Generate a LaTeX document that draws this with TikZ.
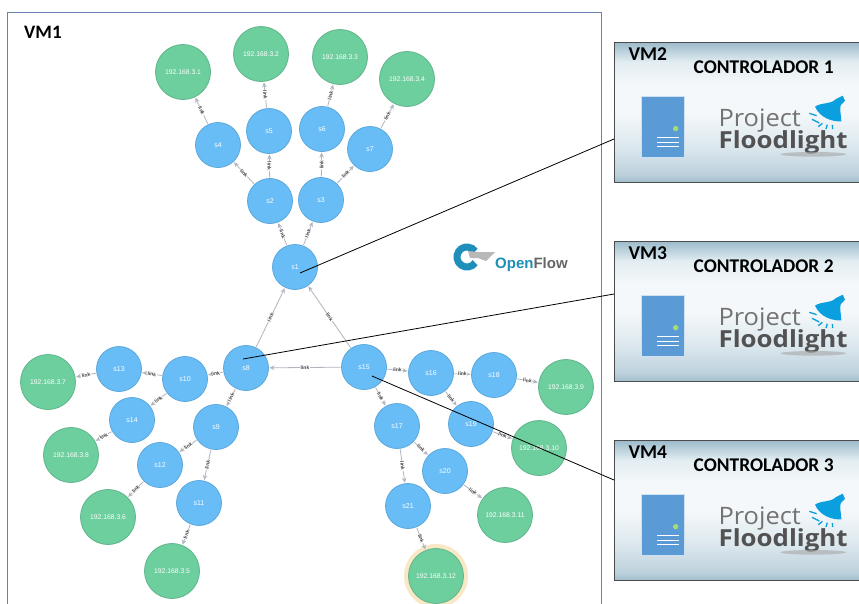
\documentclass[tikz,border=0pt]{standalone}
\usepackage{fontspec}
\setmainfont{Liberation Sans}
\newfontfamily\calfont{Carlito}
\newfontfamily\opfont{Open Sans}
\usetikzlibrary{arrows.meta}
\definecolor{swfill}{HTML}{68BDF6}
\definecolor{swline}{HTML}{5CA8DB}
\definecolor{hofill}{HTML}{6DCE9E}
\definecolor{holine}{HTML}{60B58B}
\definecolor{edgec}{HTML}{B0B5BF}
\definecolor{halo}{HTML}{F8E8C6}
\definecolor{frameb}{HTML}{6C82AE}
\definecolor{srv}{HTML}{5B9BD5}
\definecolor{lamp}{HTML}{0A9FDF}
\definecolor{ofteal}{HTML}{1E8FB8}
\definecolor{c1shade}{HTML}{9DBBCB}
\definecolor{c3shade}{HTML}{E2EDF2}
\definecolor{c4shade}{HTML}{F4F8FA}
\definecolor{c5shade}{HTML}{DCE8EE}
\definecolor{c5bshade}{HTML}{BDD1DC}
\definecolor{c6shade}{HTML}{A0BDCD}
\pgfdeclareverticalshading{vmshade}{100bp}{
 color(0bp)=(c6shade);
 color(25bp)=(c6shade);
 color(28bp)=(c5bshade);
 color(38bp)=(c5shade);
 color(50bp)=(c4shade);
 color(60bp)=(c4shade);
 color(68bp)=(c3shade);
 color(75bp)=(c1shade);
 color(100bp)=(c1shade)}
\tikzset{
 sw/.style={circle,fill=swfill,draw=swline,line width=.8pt,minimum size=45pt,inner sep=0pt,outer sep=1pt,text=white,font=\fontsize{7}{8}\selectfont},
 ho/.style={circle,fill=hofill,draw=holine,line width=.8pt,minimum size=55pt,inner sep=0pt,outer sep=1pt,text=white,font=\fontsize{6.8}{8}\selectfont},
 edge/.style={draw=edgec,line width=.8pt,-{Stealth[length=5pt,width=4.5pt]}},
 lbl/.style={sloped,midway,fill=white,inner sep=.5pt,text=black!75,font=\fontsize{5}{5.5}\bfseries\selectfont},
 vmbox/.style={draw=black!70,line width=1pt,shading=vmshade,minimum width=252pt,minimum height=140pt,anchor=north west,inner sep=0pt},
 vmtag/.style={anchor=base west,inner sep=0pt,font=\fontsize{19.5}{21}\calfont\bfseries\selectfont},
 ctl/.style={anchor=base,inner sep=0pt,font=\fontsize{19.4}{21}\calfont\bfseries\selectfont},
 conn/.style={draw=black,line width=.8pt},
 ray/.style={draw=lamp,line width=1.3pt}
}
\newcommand{\vmpanel}[3]{%
 \node[vmbox] (vm#1) at (614,#2) {};
 \begin{scope}[shift={(600,#2-12)},x=.33333pt,y=-.33333pt]
  \node[vmtag] (tag#1) at (85,92) {VM#1};
  \node[ctl] (ctl#1) at (491,131) {CONTROLADOR #3};
  \fill[srv,draw=white!70!srv,line width=.6pt] (123,198) rectangle (252,381);
  \fill[green!50!yellow!60!gray!70!white] (227,296) circle (8);
  \foreach \yy in {322,336,350} \draw[white,line width=.9pt] (172,\yy) -- (236,\yy);
  \node[anchor=base west,inner sep=0pt,xscale=1.06,text=black!55,font=\fontsize{24}{26}\opfont\selectfont] (prj#1) at (355,290) {Project};
  \node[anchor=base west,inner sep=0pt,xscale=1.1,text=black!68,font=\fontsize{23.5}{26}\opfont\bfseries\selectfont] (fl#1) at (355,355) {Floodlight};
  \fill[black!35,opacity=.6] (640,373) ellipse (98 and 7);
  \fill[lamp] (645,230) .. controls (665,216) and (692,224) .. (708,207) -- (728,197) -- (735,212) -- (722,226) .. controls (718,240) and (724,255) .. (724,274) .. controls (700,276) and (660,265) .. cycle;
  \draw[ray] (628,250) -- (650,257);
  \draw[ray] (636,268) -- (658,279);
  \draw[ray] (655,290) -- (667,280);
  \draw[ray] (678,297) -- (682,284);
  \draw[ray] (698,297) -- (697,285);
 \end{scope}
}
\begin{document}
\begin{tikzpicture}[x=1pt,y=-1pt]
\useasboundingbox[fill=white] (0,0) rectangle (859,603);
% VM1 frame
\draw[frameb,line width=1pt] (7,606) -- (7,12) -- (601,12) -- (601,606);
\node[anchor=base west,inner sep=0pt,font=\fontsize{19}{21}\calfont\bfseries\selectfont] (vm1) at (24,38) {VM1};
% switches
\foreach \n/\x/\y in {1/295/267,2/270/201,3/321/200,4/218/145,5/269/131,6/322/129,7/370/149,8/246/368,9/216/427,10/185/379,11/199/503,12/160/465,13/119/369,14/132/420,15/364/367,16/431/373,17/397/426,18/494/375,19/471/424,20/445/471,21/408/506}
  \node[sw] (s\n) at (\x,\y) {s\n};
% hosts
\fill[halo] (436,576) circle (32);
\foreach \n/\x/\y in {1/183/72,2/261/54,3/340/57,4/407/79,5/172/571,6/108/517,7/48/382,8/71/455,9/566/387,10/539/448,11/505/515,12/436/576}
  \node[ho] (h\n) at (\x,\y) {192.168.3.\n};
% links
\foreach \a/\b in {s1/s2,s1/s3,s2/s4,s2/s5,s3/s6,s3/s7,s4/h1,s5/h2,s6/h3,s7/h4,s8/s1,s15/s1,s15/s8,s8/s10,s8/s9,s10/s13,s10/s14,s13/h7,s14/h8,s9/s12,s9/s11,s12/h6,s11/h5,s15/s16,s15/s17,s16/s18,s16/s19,s18/h9,s19/h10,s17/s20,s17/s21,s20/h11,s21/h12}
  \draw[edge] (\a) -- node[lbl] {link} (\b);
% OpenFlow logo
\draw[ofteal,line width=7pt] (467,257) ++(35:10) arc (35:325:10);
\fill[black!28] (468,251) -- (478,252) -- (495,252) -- (486,261) -- (478,258) -- (470,258) -- cycle;
\node[anchor=base west,inner sep=0pt,font=\fontsize{15}{16}\bfseries\selectfont] (of) at (495,268) {\textcolor{ofteal}{Open}\textcolor{black!60}{Flow}};
% controller panels
\vmpanel{2}{42}{1}
\vmpanel{3}{241}{2}
\vmpanel{4}{440}{3}
% links to controllers
\coordinate (a1) at (300,273);
\coordinate (b1) at (614,139);
\coordinate (a2) at (243,359);
\coordinate (b2) at (614,294);
\coordinate (a3) at (372,376);
\coordinate (b3) at (614,480);
\draw[conn] (a1) -- (b1);
\draw[conn] (a2) -- (b2);
\draw[conn] (a3) -- (b3);
\end{tikzpicture}
\end{document}
